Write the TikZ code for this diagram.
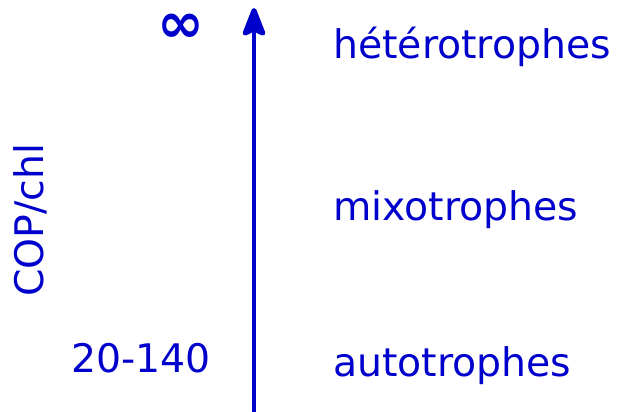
\documentclass[tikz,border=0pt]{standalone}
\usepackage{fontspec}
\setmainfont{DejaVu Sans}
\usepackage{tikz}
\usetikzlibrary{arrows.meta, positioning}
\usepackage{xcolor}
\definecolor{inkblue}{rgb}{0.0, 0.0, 0.8}

\begin{document}
\begin{tikzpicture}[x=0.025cm, y=-0.025cm,
		lbl/.style={text=inkblue, font=\fontsize{28}{32}\selectfont, inner sep=0pt},
		axisarrow/.style={-{Stealth[length=0.85cm, width=0.65cm, inset=0.15cm, round]}, line width=3.5pt, draw=inkblue}
	]
	\useasboundingbox (0,0) rectangle (626,412);
	\coordinate (bas) at (254,412);
	\coordinate (haut) at (254,8);
	\draw[axisarrow] (bas) -- (haut);
	\node[lbl, font=\bfseries\fontsize{40}{44}\selectfont, text height=24pt, text depth=0pt] (infini) at (181,26) {∞};
	\node[lbl, anchor=west] (hetero) at (333,47) {hétérotrophes};
	\node[lbl, anchor=west] (mixo) at (333,210) {mixotrophes};
	\node[lbl, anchor=west] (auto) at (333,366) {autotrophes};
	\node[lbl] (plage) at (141,358) {20-140};
	\node[lbl, rotate=90] (ratio) at (30,220) {COP/chl};
\end{tikzpicture}
\end{document}
